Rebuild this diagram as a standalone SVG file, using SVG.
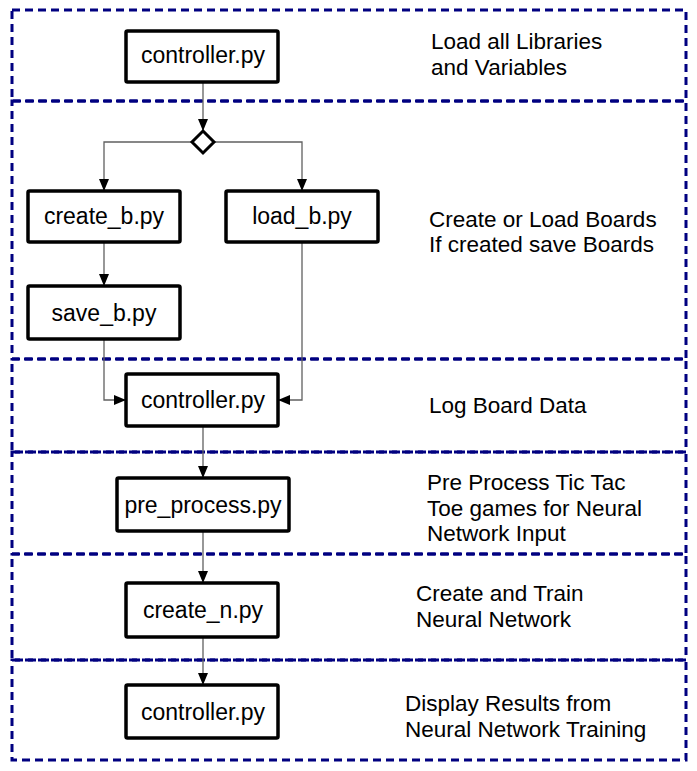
<svg xmlns="http://www.w3.org/2000/svg" width="697" height="771" viewBox="0 0 697 771">
<style>
.region{fill:none;stroke:#000080;stroke-width:3;stroke-dasharray:8,5}
.box{fill:#fff;stroke:#000;stroke-width:3.5}
.lbl{font-family:"Liberation Sans",Arial,sans-serif;font-size:23px;fill:#000;text-anchor:middle}
.note{font-family:"Liberation Sans",Arial,sans-serif;font-size:22.5px;fill:#000}
.conn{fill:none;stroke:#606060;stroke-width:1.3}
</style>
<defs>
<marker id="arr" markerUnits="userSpaceOnUse" markerWidth="13" markerHeight="10" refX="12" refY="5" orient="auto">
<path d="M0,0 L12,5 L0,10 z" fill="#000"/>
</marker>
</defs>
<rect width="697" height="771" fill="#fff"/>
<g id="regions">
<rect class="region" x="12" y="10" width="674" height="91"/>
<rect class="region" x="12" y="101" width="674" height="258"/>
<rect class="region" x="12" y="359" width="674" height="93"/>
<rect class="region" x="12" y="452" width="674" height="102"/>
<rect class="region" x="12" y="554" width="674" height="106"/>
<rect class="region" x="12" y="660" width="674" height="100"/>
</g>
<g id="notes">
<text class="note" x="431" y="49">Load all Libraries</text>
<text class="note" x="431" y="75">and Variables</text>
<text class="note" x="429" y="227">Create or Load Boards</text>
<text class="note" x="429" y="252">If created save Boards</text>
<text class="note" x="429" y="413">Log Board Data</text>
<text class="note" x="427" y="490">Pre Process Tic Tac</text>
<text class="note" x="427" y="516">Toe games for Neural</text>
<text class="note" x="427" y="541">Network Input</text>
<text class="note" x="416" y="601">Create and Train</text>
<text class="note" x="416" y="627">Neural Network</text>
<text class="note" x="405" y="711">Display Results from</text>
<text class="note" x="405" y="737">Neural Network Training</text>
</g>
<g id="connectors">
<path class="conn" d="M203,82 V131" marker-end="url(#arr)"/>
<path class="conn" d="M192,142 H104 V191" marker-end="url(#arr)"/>
<path class="conn" d="M214,142 H302 V191" marker-end="url(#arr)"/>
<path class="conn" d="M104,242 V286" marker-end="url(#arr)"/>
<path class="conn" d="M104,339 V400 H126" marker-end="url(#arr)"/>
<path class="conn" d="M302,242 V400 H278" marker-end="url(#arr)"/>
<path class="conn" d="M203,426 V478" marker-end="url(#arr)"/>
<path class="conn" d="M203,531 V583" marker-end="url(#arr)"/>
<path class="conn" d="M203,637 V685" marker-end="url(#arr)"/>
</g>
<g id="controller1">
<rect class="box" x="126" y="31" width="152" height="51" rx="1.5"/>
<text class="lbl" x="203" y="63">controller.py</text>
</g>
<g id="decision">
<path d="M203,131 L214,142 L203,153 L192,142 z" fill="#fff" stroke="#000" stroke-width="3"/>
</g>
<g id="create_b">
<rect class="box" x="28" y="191" width="152" height="51" rx="1.5"/>
<text class="lbl" x="104" y="224">create_b.py</text>
</g>
<g id="load_b">
<rect class="box" x="226" y="191" width="152" height="51" rx="1.5"/>
<text class="lbl" x="302" y="224">load_b.py</text>
</g>
<g id="save_b">
<rect class="box" x="28" y="286" width="152" height="53" rx="1.5"/>
<text class="lbl" x="104" y="321">save_b.py</text>
</g>
<g id="controller2">
<rect class="box" x="126" y="374" width="152" height="52" rx="1.5"/>
<text class="lbl" x="203" y="408">controller.py</text>
</g>
<g id="pre_process">
<rect class="box" x="117" y="478" width="172" height="53" rx="1.5"/>
<text class="lbl" x="203" y="513">pre_process.py</text>
</g>
<g id="create_n">
<rect class="box" x="126" y="583" width="152" height="54" rx="1.5"/>
<text class="lbl" x="203" y="618">create_n.py</text>
</g>
<g id="controller3">
<rect class="box" x="126" y="685" width="152" height="53" rx="1.5"/>
<text class="lbl" x="203" y="720">controller.py</text>
</g>
</svg>
